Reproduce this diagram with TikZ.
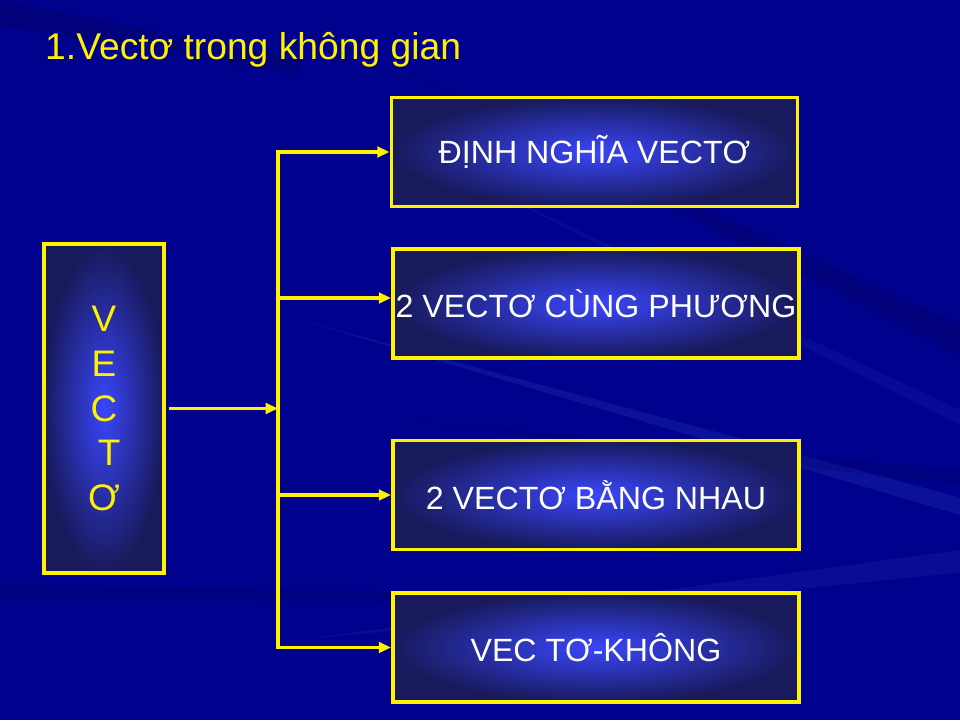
\documentclass[tikz,border=0pt]{standalone}
\usepackage{fontspec}
\setmainfont{Liberation Sans}
\usetikzlibrary{arrows.meta}

\definecolor{slideblue}{RGB}{0,2,142}
\definecolor{boxcore}{RGB}{58,70,250}
\definecolor{boxedge}{RGB}{24,26,92}
\definecolor{streaklight}{RGB}{90,110,230}
\definecolor{streakdark}{RGB}{0,0,80}

\begin{document}
\begin{tikzpicture}
\tikzset{
  BoxStyle/.style = {draw=yellow, line width=2.2pt, shading=radial,
                     inner color=boxcore, outer color=boxedge, inner sep=0pt,
                     text=white, font=\fontsize{18.3}{22}\selectfont},
  ItemStyle/.style = {BoxStyle, minimum width=8.12cm, minimum height=2.18cm},
  LinkStyle/.style = {draw=yellow, line width=1.9pt},
  ArrowStyle/.style = {LinkStyle, -{Triangle[length=7pt,width=6pt]}},
}
  \useasboundingbox (0,0) rectangle (19.2,14.4);
  \fill[slideblue] (0,0) rectangle (19.2,14.4);

  % background streaks
  \begin{scope}
    \fill[streaklight, opacity=0.14] (6,8) -- (19.2,4.45) -- (19.2,4.1) -- cycle;
    \fill[streaklight, opacity=0.10] (6,1.6) -- (19.2,3.4) -- (19.2,2.95) -- cycle;
    \fill[streaklight, opacity=0.08] (9,11) -- (19.2,6.2) -- (19.2,5.9) -- cycle;
    \fill[streakdark, opacity=0.30] (8,13) -- (19.2,7.9) -- (19.2,7.3) -- cycle;
    \fill[streakdark, opacity=0.22] (8,6) -- (19.2,5.0) -- (19.2,4.7) -- cycle;
    \fill[streakdark, opacity=0.25] (0,2.7) -- (12,2.5) -- (12,2.3) -- (0,2.45) -- cycle;
    \fill[streakdark, opacity=0.30] (0,14.4) -- (6,13.2) -- (6,12.9) -- (0,13.9) -- cycle;
  \end{scope}

  \node[anchor=base west, text=yellow, font=\fontsize{21.2}{26}\selectfont]
    (title) at (0.78,13.2) {1.Vectơ trong không gian};

  \node[BoxStyle, minimum width=2.4cm, minimum height=6.58cm, align=center,
        text=yellow, font=\fontsize{21}{25.5}\selectfont]
    (vecto) at (2.08,6.23) {V\\E\\C\\\ T\\Ơ};

  \node[ItemStyle] (dinhnghia)  at (11.89,11.36) {ĐỊNH NGHĨA VECTƠ};
  \node[ItemStyle] (cungphuong) at (11.92,8.33)  {2 VECTƠ CÙNG PHƯƠNG};
  \node[ItemStyle] (bangnhau)   at (11.92,4.5)   {2 VECTƠ BẰNG NHAU};
  \node[ItemStyle] (vectokhong) at (11.92,1.45)  {VEC TƠ-KHÔNG};

  \coordinate (j)  at (5.56,6.23);
  \coordinate (b1) at (5.56,11.36);
  \coordinate (b2) at (5.56,8.44);
  \coordinate (b3) at (5.56,4.5);
  \coordinate (b4) at (5.56,1.45);

  \draw[LinkStyle, line cap=rect] (b1) -- (b4);
  \draw[ArrowStyle, shorten <=1.5pt] (vecto.east) -- (j);
  \draw[ArrowStyle] (b1) -- (dinhnghia.west);
  \draw[ArrowStyle] (b2) -- (b2 -| cungphuong.west);
  \draw[ArrowStyle] (b3) -- (bangnhau.west);
  \draw[ArrowStyle] (b4) -- (vectokhong.west);

\end{tikzpicture}
\end{document}
